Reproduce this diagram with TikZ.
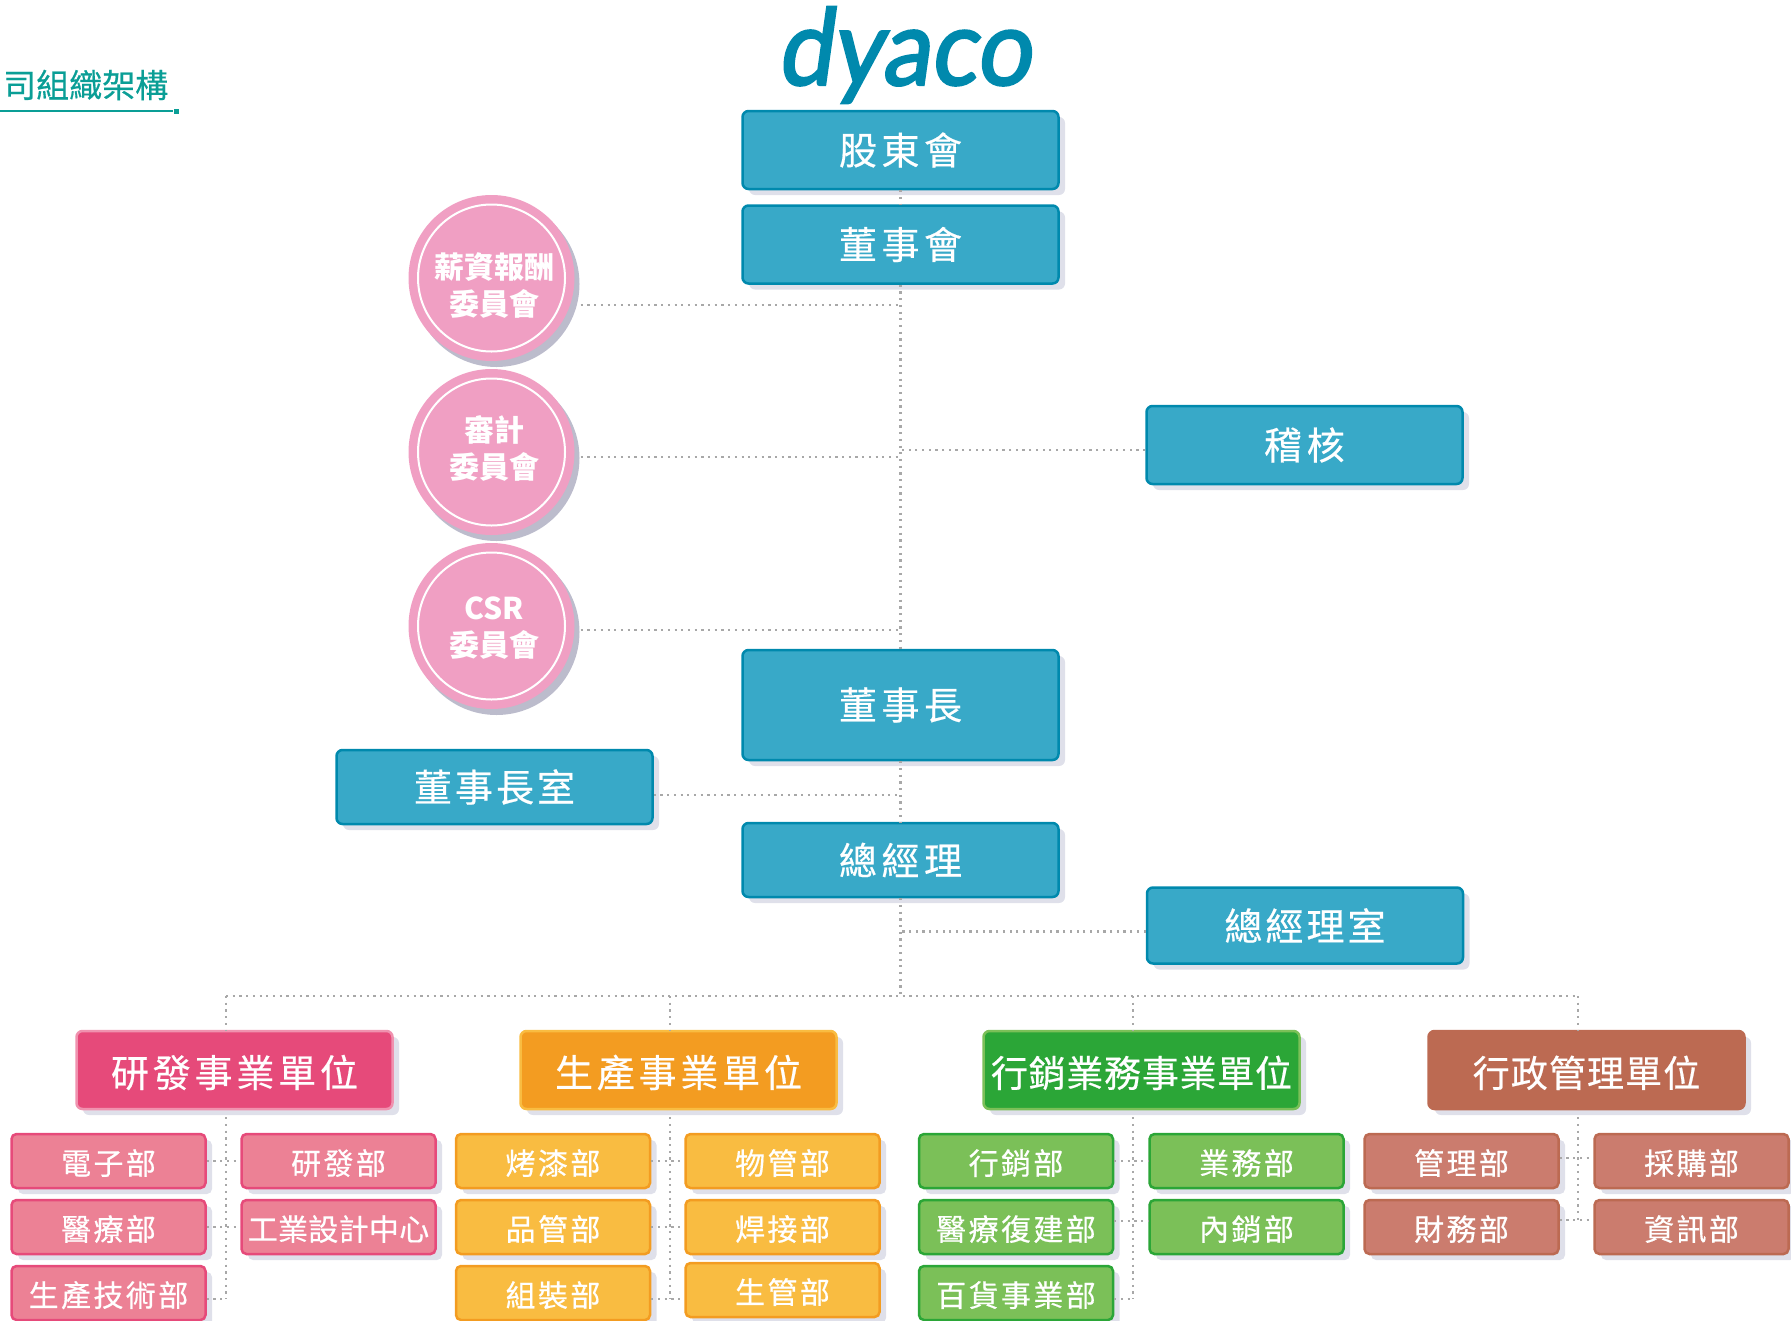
\documentclass[tikz,border=0pt]{standalone}
\usepackage{fontspec}
\setmainfont{Noto Sans CJK TC}
\newfontfamily\logofont[FakeSlant=0.14,FakeStretch=0.92,FakeBold=2.2]{Lato}
\usetikzlibrary{positioning, shadows}

\definecolor{boardfill}{HTML}{38A9C8}
\definecolor{boardedge}{HTML}{0089AD}
\definecolor{roundfill}{HTML}{F09FC3}
\definecolor{roundback}{HTML}{BCBCCC}
\definecolor{backtint}{HTML}{DFE0EA}
\definecolor{linkgray}{HTML}{A8A8A8}
\definecolor{titleteal}{HTML}{0A9E96}
\definecolor{rosedark}{HTML}{E64A7A}
\definecolor{roselight}{HTML}{EC8195}
\definecolor{amberdark}{HTML}{F39C21}
\definecolor{amberlight}{HTML}{F9BC41}
\definecolor{leafdark}{HTML}{2BA637}
\definecolor{leaflight}{HTML}{7BC058}
\definecolor{claydark}{HTML}{BC6A52}
\definecolor{claylight}{HTML}{CB7C6E}

\newcommand{\bodyfont}[2]{\fontsize{#1}{#1}\selectfont\addfontfeature{LetterSpace=#2,FakeBold=0.5}}

\tikzset{
    softback/.style={drop shadow={shadow xshift=6.5pt,shadow yshift=-6pt,fill=backtint,opacity=1}},
    board/.style={rectangle,rounded corners=6pt,draw=boardedge,fill=boardfill,line width=2.5pt,
        text=white,minimum width=316pt,minimum height=#1,inner sep=0pt,softback,
        font=\bodyfont{38pt}{12}},
    board/.default=78pt,
    committee/.style={circle,fill=roundfill,minimum size=166pt,inner sep=0pt,text=white,align=center,
        drop shadow={shadow xshift=5pt,shadow yshift=-6pt,fill=roundback,opacity=1},
        font=\fontsize{30pt}{37pt}\selectfont\bfseries,
        path picture={\draw[white,line width=2pt] (path picture bounding box.center) circle (73.5pt);}},
    unit/.style n args={2}{rectangle,rounded corners=6pt,draw=#1,fill=#2,line width=2.5pt,text=white,
        minimum width=316pt,minimum height=78pt,inner sep=0pt,softback,
        text height=38pt,text depth=4pt,font=\bodyfont{38pt}{10}},
    dept/.style n args={2}{rectangle,rounded corners=5pt,draw=#1,fill=#2,line width=2.5pt,text=white,
        minimum width=194pt,minimum height=54pt,inner sep=0pt,softback,
        text height=30pt,text depth=3pt,font=\bodyfont{30pt}{8}},
    link/.style={draw=linkgray,line width=2.2pt,dash pattern=on 2.2pt off 4.5pt},
}

\begin{document}
\begin{tikzpicture}[node distance=66pt,on grid,auto]
            \useasboundingbox (0pt,0pt) rectangle (1791pt,-1320pt);

            \node[board] (holders) at (900.5pt,-150pt) {股東會};
            \node[board] (directors) [below=94.5pt of holders] {董事會};
            \node[board=110pt] (chairman) [below=460.5pt of directors] {董事長};
            \node[board=74pt] (manager) [below=155pt of chairman] {總經理};
            \node[board] (audit) [above right=260pt and 404pt of chairman] {稽核};
            \node[board=74pt,font=\bodyfont{38pt}{8}] (chair_room) [below left=82pt and 406pt of chairman] {董事長室};
            \node[board=76pt,font=\bodyfont{38pt}{8}] (manager_room) [below right=65.5pt and 404.5pt of manager] {總經理室};

            \node[committee] (pay) [below left=33.5pt and 409pt of directors] {\rule{0pt}{40pt}\hspace*{5pt}薪資報酬\\\hspace*{5pt}委員會};
            \node[committee] (review) [below=174pt of pay] {\hspace*{5pt}審計\\\hspace*{5pt}委員會\rule[-10pt]{0pt}{0pt}};
            \node[committee] (csr) [below=174pt of review] {\rule{0pt}{27pt}\hspace*{5pt}CSR\\\hspace*{5pt}委員會};

            \node[inner sep=0pt,text=boardedge,font=\logofont\fontsize{106pt}{106pt}\selectfont] (logo) [above right=95pt and 3.5pt of holders] {dyaco};
            \node[anchor=west,inner sep=0pt,text=titleteal,font=\fontsize{33pt}{33pt}\selectfont\addfontfeature{FakeBold=0.5}] (title) at (3pt,-85pt) {司組織架構};
            \node[fill=titleteal,minimum size=5pt,inner sep=0pt] (rule_end) at (176pt,-111pt) {};
            \coordinate (rule_start) at (0pt,-111pt);
            \draw[titleteal,line width=1.5pt] (rule_start) -- (rule_end);

            \node[unit={rosedark!60!white}{rosedark}] (unit_rd) [below left=210pt and 666pt of manager] {研發事業單位};
            \node[unit={amberlight}{amberdark}] (unit_make) [right=444pt of unit_rd] {生產事業單位};
            \node[unit={leaflight}{leafdark},font=\bodyfont{37pt}{2}] (unit_sale) [right=463pt of unit_make] {行銷業務事業單位};
            \node[unit={claydark}{claydark},font=\bodyfont{37pt}{3}] (unit_admin) [right=445pt of unit_sale] {行政管理單位};

            \node[dept={rosedark}{roselight}] (rd_1) [below left=91pt and 126pt of unit_rd] {電子部};
            \node[dept={rosedark}{roselight}] (rd_2) [below=of rd_1] {醫療部};
            \node[dept={rosedark}{roselight}] (rd_3) [below=of rd_2] {生產技術部};
            \node[dept={rosedark}{roselight}] (rd_4) [right=230pt of rd_1] {研發部};
            \node[dept={rosedark}{roselight},font=\bodyfont{30pt}{1}] (rd_5) [below=of rd_4] {工業設計中心};

            \node[dept={amberdark}{amberlight}] (make_1) [below left=91pt and 125.5pt of unit_make] {烤漆部};
            \node[dept={amberdark}{amberlight}] (make_2) [below=of make_1] {品管部};
            \node[dept={amberdark}{amberlight}] (make_3) [below=of make_2] {組裝部};
            \node[dept={amberdark}{amberlight}] (make_4) [right=229.5pt of make_1] {物管部};
            \node[dept={amberdark}{amberlight}] (make_5) [below=of make_4] {焊接部};
            \node[dept={amberdark}{amberlight}] (make_6) [below=63pt of make_5] {生管部};

            \node[dept={leafdark}{leaflight}] (sale_1) [below left=91pt and 125.5pt of unit_sale] {行銷部};
            \node[dept={leafdark}{leaflight}] (sale_2) [below=of sale_1] {醫療復建部};
            \node[dept={leafdark}{leaflight}] (sale_3) [below=of sale_2] {百貨事業部};
            \node[dept={leafdark}{leaflight}] (sale_4) [right=230.5pt of sale_1] {業務部};
            \node[dept={leafdark}{leaflight}] (sale_5) [below=of sale_4] {內銷部};

            \node[dept={claydark}{claylight}] (admin_1) [below left=91pt and 125pt of unit_admin] {管理部};
            \node[dept={claydark}{claylight}] (admin_2) [below=of admin_1] {財務部};
            \node[dept={claydark}{claylight}] (admin_3) [right=230pt of admin_1] {採購部};
            \node[dept={claydark}{claylight}] (admin_4) [below=of admin_3] {資訊部};

            \node[coordinate] (drop_rd) [below left=136pt and 674.5pt of manager] {};
            \node[coordinate] (drop_make) [below left=136pt and 230.5pt of manager] {};
            \node[coordinate] (drop_sale) [below right=136pt and 232.5pt of manager] {};
            \node[coordinate] (drop_admin) [below right=136pt and 677.5pt of manager] {};
            \coordinate (pay_out) at ([yshift=-27pt]pay.east);
            \coordinate (review_out) at ([yshift=-5pt]review.east);
            \coordinate (csr_out) at ([yshift=-4pt]csr.east);
            \coordinate (rd_out) at ([yshift=-6pt]rd_3.east);
            \coordinate (make_out) at ([yshift=-6pt]make_3.east);
            \coordinate (sale_mid) at ([yshift=6pt]sale_2.east);
            \coordinate (sale_out) at ([yshift=-6pt]sale_3.east);
            \coordinate (admin_top) at ([yshift=3pt]admin_1.east);
            \coordinate (admin_mid) at ([yshift=7pt]admin_2.east);
            \coordinate (audit_in) at ([yshift=-5pt]audit.west);
            \coordinate (room_in) at ([yshift=-6pt]manager_room.west);
            \coordinate (chair_out) at ([yshift=-8pt]chair_room.east);

                \path[link]
                (holders) edge (directors)
                (directors) edge (chairman)
                (chairman) edge (manager)
                (manager) edge (manager |- drop_rd)
                (drop_rd) edge (drop_admin)
                ([xshift=6pt]pay_out) edge (pay_out -| directors)
                ([xshift=6pt]review_out) edge (review_out -| directors)
                ([xshift=6pt]csr_out) edge (csr_out -| directors)
                (audit_in) edge (audit_in -| directors)
                (room_in) edge (room_in -| manager)
                (chair_out) edge (chair_out -| chairman)
                (drop_rd) edge (drop_rd |- unit_rd.north)
                (drop_make) edge (drop_make |- unit_make.north)
                (drop_sale) edge (drop_sale |- unit_sale.north)
                (drop_admin) edge (drop_admin |- unit_admin.north)
                ([yshift=-7pt]drop_rd |- unit_rd.south) edge (drop_rd |- rd_out)
                ([yshift=-7pt]drop_make |- unit_make.south) edge (drop_make |- make_out)
                ([yshift=-7pt]drop_sale |- unit_sale.south) edge (drop_sale |- sale_out)
                ([yshift=-7pt]drop_admin |- unit_admin.south) edge (drop_admin |- admin_mid)
                (rd_1) edge (rd_4)
                (rd_2) edge (rd_5)
                (rd_out) edge (rd_out -| drop_rd)
                (make_1) edge (make_4)
                (make_2) edge (make_5)
                (make_out) edge (make_out -| make_6.west)
                (sale_1) edge (sale_4)
                (sale_mid) edge (sale_mid -| sale_5.west)
                (sale_out) edge (sale_out -| drop_sale)
                (admin_top) edge (admin_top -| admin_3.west)
                (admin_mid) edge (admin_mid -| admin_4.west);
        \end{tikzpicture}
\end{document}
